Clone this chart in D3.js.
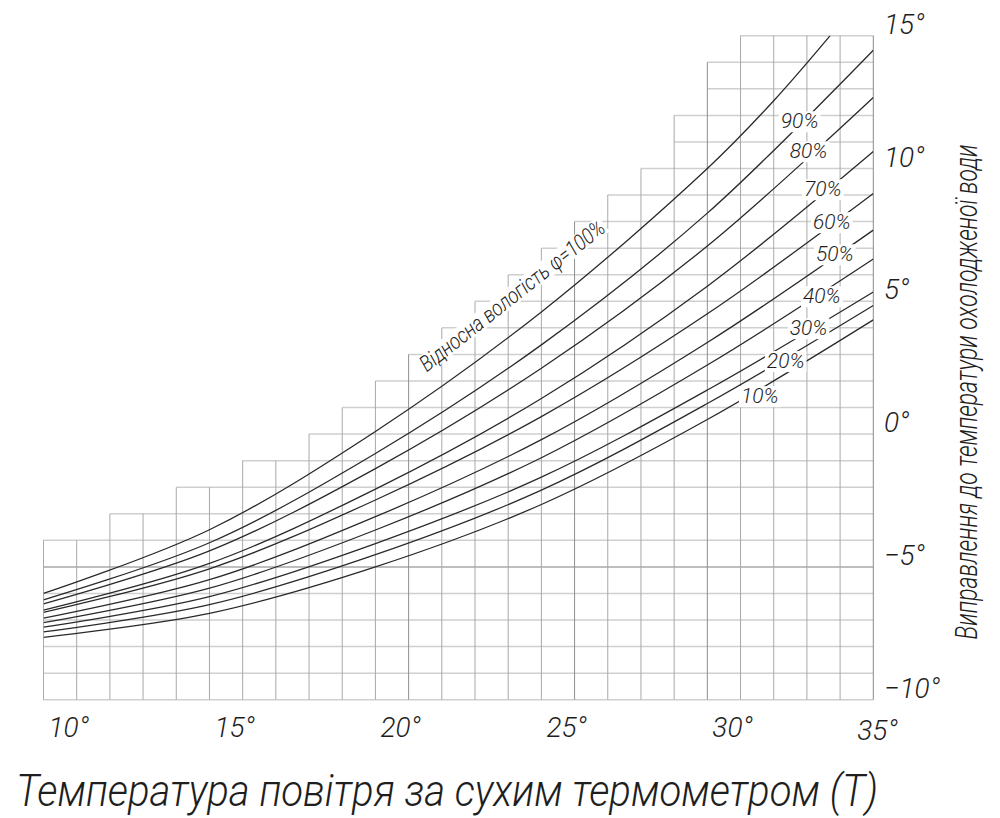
<!DOCTYPE html>
<html><head><meta charset="utf-8">
<script src="https://cdn.jsdelivr.net/npm/d3@7"></script>
<style>
html,body{margin:0;padding:0;background:#fff;}
svg{display:block;}
text{font-family:"Roboto","DejaVu Sans",sans-serif;font-style:italic;font-weight:300;fill:#1e1e1e;}
</style></head><body>
<svg id="chart" width="1000" height="818"></svg>
<script>
// ---- data ----
const temps = [10, 15, 20, 25, 30, 35];
const temps100 = [10, 15, 20, 25, 30, 32, 33.7];
const rh100 = [-6.0, -3.6, 0.1, 4.6, 10.0, 12.55, 15.0];
const rh90 = [-6.24, -4.09, -0.73, 3.36, 8.32, 14.45];
const rh80 = [-6.39, -4.4, -1.3, 2.48, 7.08, 12.67];
const rh70 = [-6.63, -4.87, -2.07, 1.34, 5.57, 10.64];
const rh60 = [-6.71, -5.07, -2.48, 0.66, 4.53, 9.06];
const rh50 = [-6.93, -5.48, -3.11, -0.21, 3.45, 7.68];
const rh40 = [-7.1, -5.8, -3.61, -0.89, 2.6, 6.59];
const rh30 = [-7.27, -6.12, -4.12, -1.62, 1.66, 5.35];
const rh20 = [-7.45, -6.42, -4.54, -2.11, 1.15, 4.84];
const rh10 = [-7.65, -6.75, -5.0, -2.65, 0.55, 4.3];
const seriesNames = ["90%", "80%", "70%", "60%", "50%", "40%", "30%", "20%", "10%"];
const seriesValues = [rh90, rh80, rh70, rh60, rh50, rh40, rh30, rh20, rh10];
// label anchors (temperature, correction) for the percentage labels
const labelT = [32.78, 33.05, 33.48, 33.75, 33.84, 33.45, 33.05, 32.36, 31.58];
const labelV = [11.8, 10.67, 9.24, 8.0, 6.79, 5.21, 4.01, 2.77, 1.45];
const label100 = "Відносна вологість φ=100%";
const label100Pos = [21.55, 2.32];
// grid staircase: top value of each 1° column starting at 10°..34°
const colTops = [-4, -4, -3, -3, -2, -2, -1, -1, 0, 1, 2, 3, 4, 5, 6, 7, 8, 9, 10, 12, 14, 15, 15, 15, 15];
const darkV = [21, 26, 30];
const darkH = [-5];
const xTicks = [10, 15, 20, 25, 30, 35];
const yTicks = [-10, -5, 0, 5, 10, 15];
const xTitle = "Температура повітря за сухим термометром (Т)";
const yTitle = "Виправлення до температури охолодженої води";

// ---- scales ----
const svg = d3.select("#chart");
const x = d3.scaleLinear().domain([10, 35]).range([43.5, 873.3]);
const y = d3.scaleLinear().domain([-10, 15]).range([699.7, 35.7]);

// ---- grid ----
const grid = svg.append("g");
const hLevels = d3.range(-10, 16);
grid.selectAll("line.h").data(hLevels).join("line")
  .attr("class", "h")
  .attr("x1", v => x(10 + colTops.findIndex(t => t >= v)))
  .attr("x2", x(35))
  .attr("y1", v => y(v)).attr("y2", v => y(v))
  .attr("stroke", v => darkH.includes(v) ? "#a9a9a9" : "#cfcfcf").attr("stroke-width", 1.5);
const vLevels = d3.range(10, 36);
function lineTop(t) {
  const l = t - 1 >= 10 ? colTops[t - 11] : -99;
  const r = t <= 34 ? colTops[t - 10] : -99;
  return Math.max(l, r);
}
grid.selectAll("line.v").data(vLevels).join("line")
  .attr("class", "v")
  .attr("x1", t => x(t)).attr("x2", t => x(t))
  .attr("y1", y(-10)).attr("y2", t => y(lineTop(t)))
  .attr("stroke", t => t === 35 ? "#8a8a8a" : (darkV.includes(t) ? "#8f8f8f" : "#a9a9a9")).attr("stroke-width", 1);

// ---- curves ----
svg.append("clipPath").attr("id", "clip").append("rect")
  .attr("x", x(10)).attr("y", y(15)).attr("width", x(35) - x(10)).attr("height", y(-10) - y(15));
const line = d3.line().x(d => x(d[0])).y(d => y(d[1])).curve(d3.curveCatmullRom.alpha(0.5));
const curves = svg.append("g").attr("clip-path", "url(#clip)");
curves.append("path").datum(temps100.map((t, i) => [t, rh100[i]]))
  .attr("d", line).attr("fill", "none").attr("stroke", "#2a2a2a").attr("stroke-width", 1.3);
seriesValues.forEach(vals => {
  curves.append("path").datum(temps.map((t, i) => [t, vals[i]]))
    .attr("d", line).attr("fill", "none").attr("stroke", "#2a2a2a").attr("stroke-width", 1.3);
});

// ---- percent labels with white background ----
const lab = svg.append("g");
seriesNames.forEach((name, i) => {
  const g = lab.append("g").attr("transform", `translate(${x(labelT[i])},${y(labelV[i])})`);
  const rect = g.append("rect").attr("fill", "#fff");
  const txt = g.append("text").attr("text-anchor", "middle").attr("dy", "0.36em")
    .attr("font-size", 21).text(name);
  const b = txt.node().getBBox();
  rect.attr("x", b.x - 2).attr("y", b.y + 2).attr("width", b.width + 4).attr("height", b.height - 3);
});
// 100% label along the curve
{
  const g = lab.append("g").attr("transform", `translate(${x(label100Pos[0])},${y(label100Pos[1])}) rotate(-38.2)`);
  const rect = g.append("rect").attr("fill", "#fff");
  const txt = g.append("text").attr("font-size", 22).attr("textLength", 229).attr("lengthAdjust", "spacingAndGlyphs").text(label100);
  const b = txt.node().getBBox();
  rect.attr("x", b.x - 2).attr("y", b.y + 3).attr("width", b.width + 4).attr("height", b.height - 6);
}

// ---- axes labels ----
svg.append("g").selectAll("text").data(xTicks).join("text")
  .attr("x", t => x(t) + (t === 35 ? -16 : 5))
  .attr("y", t => t === 35 ? 740 : 737)
  .attr("font-size", 28).text(t => t + "°");
svg.append("g").selectAll("text").data(yTicks).join("text")
  .attr("x", 884).attr("y", v => y(v) - 2)
  .attr("font-size", 28).text(v => (v < 0 ? "\u2212" + Math.abs(v) : v) + "°");

svg.append("text").attr("x", 16).attr("y", 806).attr("font-size", 44)
  .attr("textLength", 862).attr("lengthAdjust", "spacingAndGlyphs").text(xTitle);
{
  const yt = svg.append("text").attr("x", 0).attr("y", 0).attr("text-anchor", "middle")
    .attr("font-size", 31).text(yTitle);
  const natural = yt.node().getComputedTextLength();
  yt.attr("transform", `translate(977,392) rotate(-90) scale(${495 / natural},1)`);
}
</script>
</body></html>
